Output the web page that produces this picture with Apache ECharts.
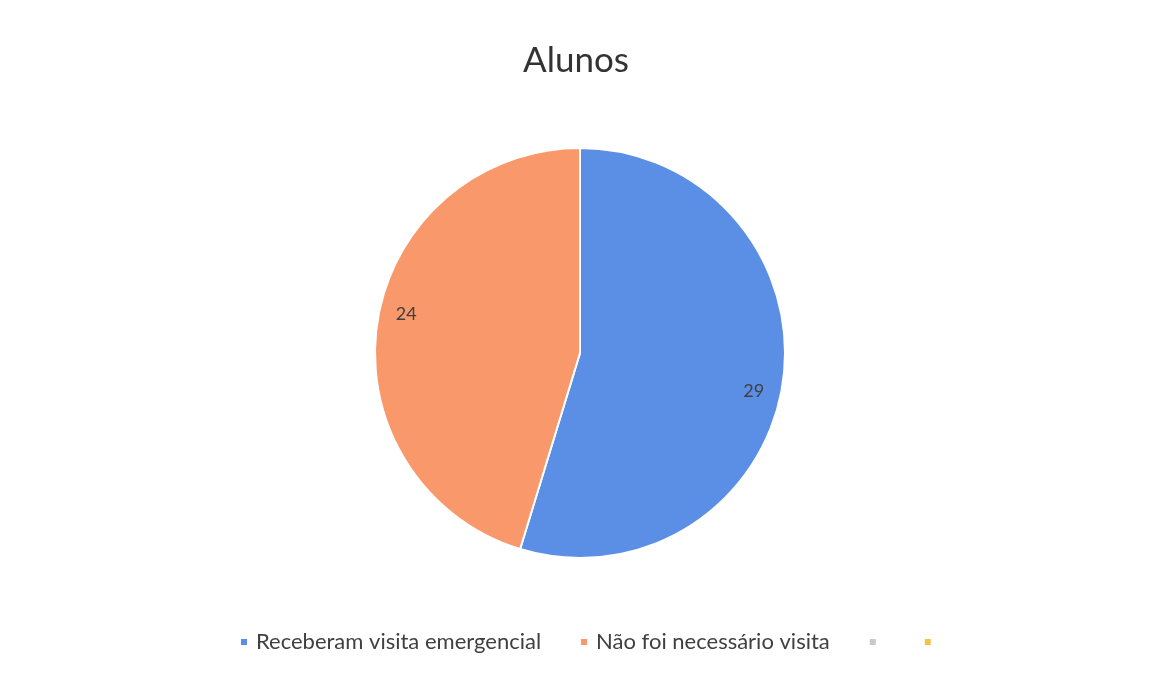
<!DOCTYPE html>
<html>
<head>
<meta charset="utf-8">
<script src="https://cdn.jsdelivr.net/npm/echarts@6/dist/echarts.min.js"></script>
<style>
  html, body { margin: 0; padding: 0; background: #fff; }
  #chart { width: 1152px; height: 680px; }
</style>
</head>
<body>
<div id="chart"></div>
<script>
const categories = ['Receberam visita emergencial', 'Não foi necessário visita', '\u200b', '\u200b\u200b'];
const values = [29, 24, 0, 0];
const colors = ['#5b8fe6', '#f8986b', '#c9c9c9', '#f3c24a'];

const myChart = echarts.init(document.getElementById('chart'));

const pieData = categories.map((name, i) => ({
  name: name,
  value: values[i],
  itemStyle: { color: colors[i] }
}));

// labels sit near the rim, so a transparent ring carries them
const labelData = categories.map((name, i) => ({
  name: name,
  value: values[i],
  label: { show: values[i] > 0 }
}));

const option = {
  backgroundColor: '#fff',
  title: {
    text: 'Alunos',
    left: 'center',
    top: 38,
    textStyle: { fontFamily: 'Lato', fontSize: 35, fontWeight: 'normal', color: '#333' }
  },
  legend: {
    bottom: 22,
    left: 234,
    itemWidth: 8,
    itemHeight: 8,
    itemGap: 38,
    icon: 'rect',
    data: categories,
    textStyle: { fontFamily: 'Lato', fontSize: 22, color: '#404040', padding: [0, 0, 0, 3] }
  },
  series: [
    {
      type: 'pie',
      center: [580, 353],
      radius: [0, 205],
      startAngle: 90,
      clockwise: true,
      label: { show: false },
      labelLine: { show: false },
      itemStyle: { borderColor: '#fff', borderWidth: 2 },
      emphasis: { disabled: true },
      data: pieData
    },
    {
      type: 'pie',
      center: [580, 353],
      radius: [163, 187],
      startAngle: 86,
      clockwise: true,
      silent: true,
      legendHoverLink: false,
      itemStyle: { color: 'rgba(0,0,0,0)', borderWidth: 0 },
      label: {
        position: 'inside',
        formatter: '{c}',
        fontFamily: 'Lato',
        fontSize: 18,
        color: '#404040'
      },
      labelLine: { show: false },
      data: labelData
    }
  ]
};
myChart.setOption(option);
</script>
</body>
</html>
